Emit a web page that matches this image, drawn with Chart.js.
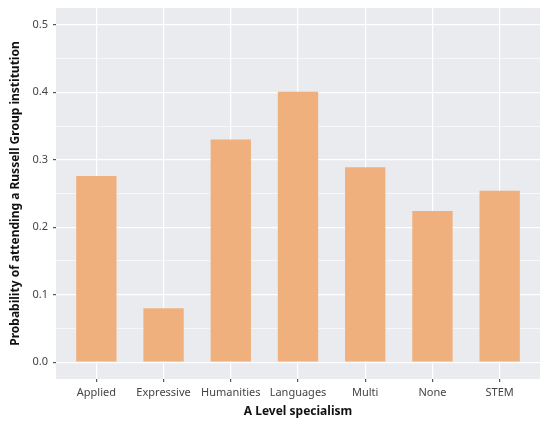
<!DOCTYPE html>
<html>
<head>
<meta charset="utf-8">
<script src="https://cdn.jsdelivr.net/npm/chart.js@4/dist/chart.umd.min.js"></script>
<style>
  html, body { margin: 0; padding: 0; background: #fff; }
</style>
</head>
<body>
<canvas id="chart" width="541" height="425"></canvas>
<script>
const categories = ['Applied', 'Expressive', 'Humanities', 'Languages', 'Multi', 'None', 'STEM'];
const probability = [0.276, 0.080, 0.330, 0.401, 0.289, 0.224, 0.254];
const yTicks = [0.0, 0.1, 0.2, 0.3, 0.4, 0.5];

const panelBg = {
    id: 'panelBg',
    beforeDraw (chart) {
        const a = chart.chartArea;
        const ctx = chart.ctx;
        ctx.save();
        ctx.fillStyle = '#eaebef';
        ctx.fillRect(a.left, a.top, a.right - a.left, a.bottom - a.top);
        ctx.restore();
    }
};

const isMajor = (v) => Math.abs(v * 10 - Math.round(v * 10)) < 1e-6;

new Chart(document.getElementById('chart'), {
    type: 'bar',
    data: {
        datasets: [{
            data: categories.map((c, i) => ({ x: i + 1, y: probability[i] })),
            backgroundColor: '#f0b07e',
            borderWidth: 0,
            barPercentage: 0.6,
            categoryPercentage: 1.0
        }]
    },
    options: {
        responsive: false,
        animation: false,
        layout: { padding: { top: 8, right: 1, left: 0, bottom: 0 } },
        plugins: { legend: { display: false }, tooltip: { enabled: false } },
        scales: {
            x: {
                type: 'linear',
                min: 0.4,
                max: 7.6,
                offset: false,
                afterBuildTicks (scale) {
                    scale.ticks = categories.map((c, i) => ({ value: i + 1 }));
                },
                afterFit (scale) {
                    scale.height = 46;
                    scale.paddingLeft = 0;
                    scale.paddingRight = 0;
                },
                border: { display: false },
                grid: { offset: false, color: '#ffffff', lineWidth: 1.2, tickColor: '#555', tickLength: 3, drawOnChartArea: true },
                ticks: {
                    callback: (v) => categories[v - 1],
                    color: '#444',
                    font: { family: 'Noto Sans', size: 11 },
                    padding: 4,
                    maxRotation: 0,
                    autoSkip: false
                },
                title: {
                    display: true,
                    text: 'A Level specialism',
                    color: '#111',
                    font: { family: 'Noto Sans', size: 12, weight: 'bold' },
                    padding: { top: 2, bottom: 6 }
                }
            },
            y: {
                min: -0.025,
                max: 0.525,
                afterBuildTicks (scale) {
                    const t = [];
                    for (let i = 0; i <= 10; i++) t.push({ value: i * 0.05 });
                    scale.ticks = t;
                },
                afterFit (scale) {
                    scale.width = 56;
                    scale.paddingTop = 0;
                    scale.paddingBottom = 0;
                },
                border: { display: false },
                grid: {
                    color: '#ffffff',
                    lineWidth: (ctx) => isMajor(ctx.tick.value) ? 1.2 : 0.6,
                    tickColor: (ctx) => isMajor(ctx.tick.value) ? '#555' : 'rgba(0,0,0,0)',
                    tickLength: 3
                },
                ticks: {
                    callback: (v) => isMajor(v) && yTicks.some(t => Math.abs(t - v) < 1e-6) ? v.toFixed(1) : '',
                    color: '#444',
                    font: { family: 'Noto Sans', size: 11 },
                    padding: 5,
                    autoSkip: false
                },
                title: {
                    display: true,
                    text: 'Probability of attending a Russell Group institution',
                    color: '#111',
                    font: { family: 'Noto Sans', size: 12, weight: 'bold' },
                    padding: { top: 8, bottom: 0 }
                }
            }
        }
    },
    plugins: [panelBg]
});
</script>
</body>
</html>
